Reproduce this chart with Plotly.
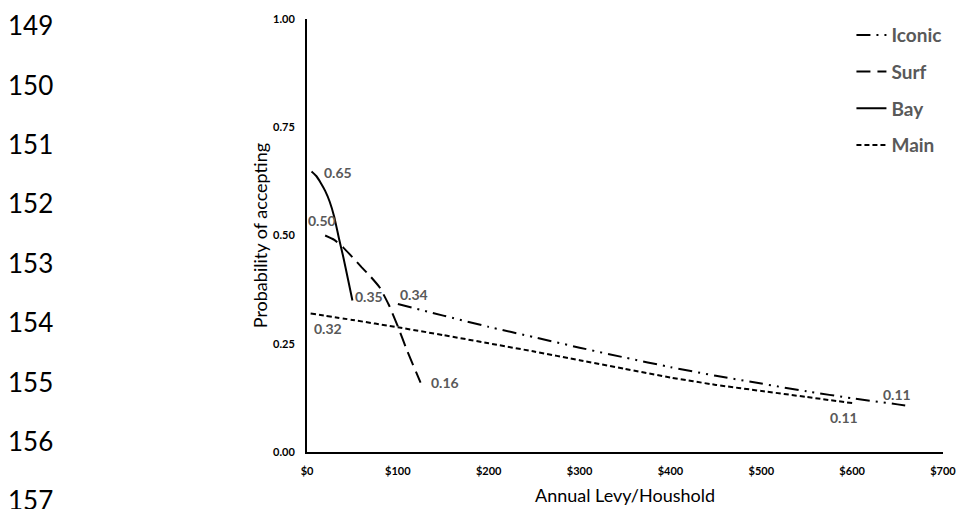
import plotly.graph_objects as go

# ---- data ----
iconic_x = [100, 150, 200, 250, 300, 350, 400, 450, 500, 550, 600, 650, 660]
iconic_y = [0.342, 0.315, 0.289, 0.265, 0.241, 0.218, 0.196, 0.176, 0.158, 0.140, 0.124, 0.110, 0.107]

surf_x = [20, 30, 40, 50, 60, 70, 80, 90, 100, 110, 125]
surf_y = [0.50, 0.49, 0.472, 0.45, 0.427, 0.405, 0.38, 0.34, 0.29, 0.235, 0.16]

bay_x = [5, 10, 15, 20, 25, 30, 35, 40, 45, 50]
bay_y = [0.648, 0.638, 0.622, 0.603, 0.578, 0.543, 0.495, 0.45, 0.40, 0.35]

main_x = [4, 50, 100, 150, 200, 250, 300, 350, 400, 450, 500, 550, 600]
main_y = [0.32, 0.305, 0.288, 0.27, 0.251, 0.232, 0.212, 0.192, 0.172, 0.155, 0.141, 0.127, 0.113]

x_ticks = [0, 100, 200, 300, 400, 500, 600, 700]
x_tick_labels = ["$0", "$100", "$200", "$300", "$400", "$500", "$600", "$700"]
y_ticks = [0, 0.25, 0.5, 0.75, 1.0]
y_tick_labels = ["0.00", "0.25", "0.50", "0.75", "1.00"]

line_numbers = ["149", "150", "151", "152", "153", "154", "155", "156", "157"]

FONT = "Lato"
LABEL_GREY = "#595959"

fig = go.Figure()

series = [
    ("Iconic", iconic_x, iconic_y, "14px,6px,2px,6px,2px,6px"),
    ("Surf", surf_x, surf_y, "14px,7px"),
    ("Bay", bay_x, bay_y, "solid"),
    ("Main", main_x, main_y, "5px,3px"),
]
for name, xs, ys, dash in series:
    fig.add_trace(go.Scatter(
        x=xs, y=ys, mode="lines", name=name, legendgroup=name,
        line=dict(color="black", width=2, dash=dash, shape="spline", smoothing=0.4),
    ))

# data labels at first/last point of each series (offsets in px)
label_specs = [
    (iconic_x[0], iconic_y[0], 16, 9),
    (iconic_x[-1], iconic_y[-1], -10, 11),
    (surf_x[0], surf_y[0], -3, 15),
    (surf_x[-1], surf_y[-1], 24, 0),
    (bay_x[0], bay_y[0], 26, -1),
    (bay_x[-1], bay_y[-1], 17, 4),
    (main_x[0], main_y[0], 17, -15),
    (main_x[-1], main_y[-1], -8, -14),
]
for lx, ly, dx, dy in label_specs:
    fig.add_annotation(x=lx, y=ly, xref="x", yref="y", text=f"{ly:.2f}",
                       showarrow=False, xshift=dx, yshift=dy,
                       font=dict(family=FONT, size=14, color=LABEL_GREY, weight="bold"))

# document line numbers on the left
W_PLOT = 646.0
H_PLOT = 437.0
for i, t in enumerate(line_numbers):
    py = 21.5 + i * 59.9
    fig.add_annotation(x=(1 - 307) / W_PLOT, y=(452 - py) / H_PLOT, xref="paper", yref="paper",
                       text=t, showarrow=False, xanchor="left", yanchor="middle",
                       font=dict(family=FONT, size=26, color="black"))

# axis titles
fig.add_annotation(x=(259 - 307) / W_PLOT, y=0.5, xref="paper", yref="paper",
                   text="Probability of accepting", textangle=-90, showarrow=False,
                   xanchor="center", yanchor="middle",
                   font=dict(family=FONT, size=18, color="black"))
fig.add_annotation(x=0.5, y=(452 - 495) / H_PLOT, xref="paper", yref="paper",
                   text="Annual Levy/Houshold", showarrow=False,
                   xanchor="center", yanchor="middle",
                   font=dict(family=FONT, size=18, color="black"))

fig.update_layout(
    width=968, height=509,
    margin=dict(l=307, r=15, t=15, b=57),
    paper_bgcolor="white", plot_bgcolor="white",
    showlegend=True,
    legend=dict(x=(860 - 307) / W_PLOT, y=(452 - 12) / H_PLOT, xanchor="left", yanchor="top",
                bgcolor="rgba(0,0,0,0)", tracegroupgap=9, itemwidth=30,
                font=dict(family=FONT, size=19, color=LABEL_GREY, weight="bold")),
    xaxis=dict(range=[0, 700], tickvals=x_ticks, ticktext=x_tick_labels,
               showgrid=False, zeroline=False, showline=True, linecolor="black", linewidth=2,
               ticks="", ticklabelstandoff=8,
               tickfont=dict(family=FONT, size=11, color="black", weight="bold")),
    yaxis=dict(range=[0, 1], tickvals=y_ticks, ticktext=y_tick_labels,
               showgrid=False, zeroline=False, showline=True, linecolor="black", linewidth=2,
               ticks="", ticklabelstandoff=8,
               tickfont=dict(family=FONT, size=11, color="black", weight="bold")),
)

fig.write_html("out.html",
               config={"displayModeBar": False},
               post_script="document.body.style.margin='0';document.body.style.padding='0';"
                           "document.documentElement.style.overflow='hidden';")
